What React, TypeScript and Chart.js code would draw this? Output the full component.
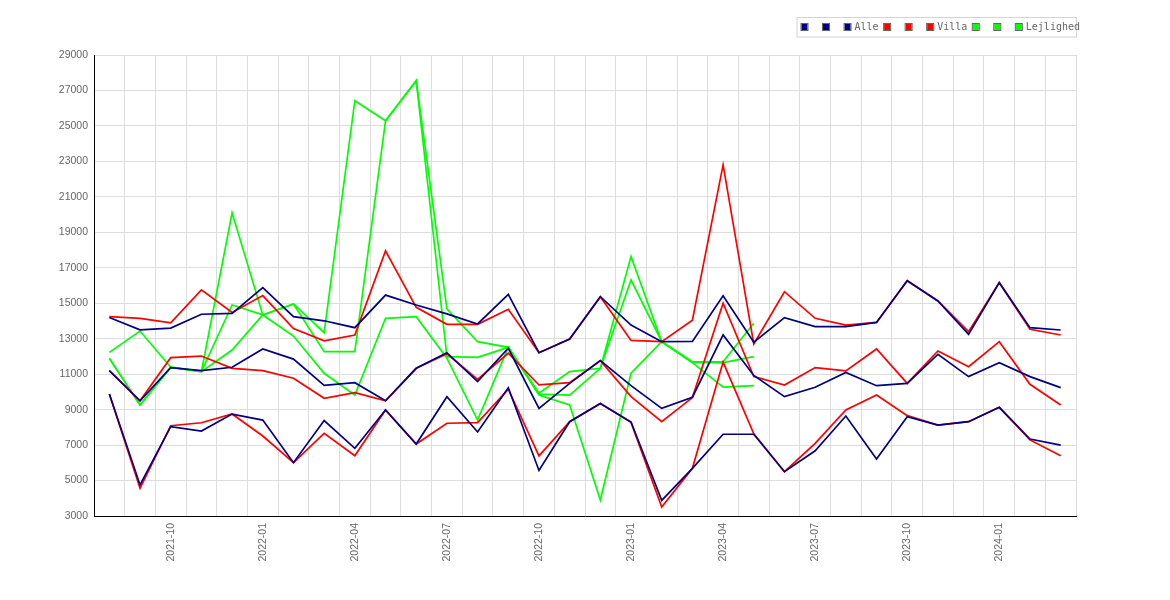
import React, { useEffect, useRef } from "react";
import { Chart, registerables } from "chart.js";

Chart.register(...registerables);

const months: string[] = [
  "2021-08", "2021-09", "2021-10", "2021-11", "2021-12",
  "2022-01", "2022-02", "2022-03", "2022-04", "2022-05", "2022-06",
  "2022-07", "2022-08", "2022-09", "2022-10", "2022-11", "2022-12",
  "2023-01", "2023-02", "2023-03", "2023-04", "2023-05", "2023-06",
  "2023-07", "2023-08", "2023-09", "2023-10", "2023-11", "2023-12",
  "2024-01", "2024-02", "2024-03",
];

const alleMax = [14200, 13500, 13600, 14380, 14430, 15880, 14240, 14010, 13620, 15460, 14900, 14400, 13830, 15500, 12210, 12980, 15370, 13770, 12830, 12850, 15420, 12800, 14190, 13680, 13680, 13920, 16270, 15130, 13250, 16160, 13620, 13490];
const alleMid = [11200, 9500, 11370, 11200, 11390, 12420, 11850, 10370, 10520, 9500, 11330, 12210, 10580, 12460, 9070, 10480, 11760, 10350, 9070, 9700, 13210, 10930, 9730, 10260, 11100, 10350, 10480, 12120, 10860, 11650, 10860, 10240];
const alleMin = [9880, 4750, 8040, 7790, 8750, 8410, 6010, 8380, 6820, 8980, 7060, 9730, 7740, 10230, 5570, 8320, 9340, 8300, 3880, 5690, 7610, 7610, 5500, 6680, 8640, 6210, 8600, 8130, 8320, 9130, 7340, 7000];

const villaMax = [14240, 14150, 13900, 15750, 14480, 15430, 13570, 12880, 13210, 17950, 14770, 13810, 13810, 14660, 12210, 12980, 15370, 12900, 12830, 14040, 22800, 12700, 15650, 14150, 13770, 13920, 16270, 15130, 13400, 16160, 13530, 13210];
const villaMid = [11200, 9500, 11930, 12020, 11330, 11200, 10770, 9640, 9960, 9500, 11330, 12150, 10700, 12180, 10390, 10520, 11760, 9730, 8320, 9680, 15000, 10860, 10390, 11370, 11180, 12420, 10480, 12310, 11420, 12830, 10430, 9260];
const villaMin = [9880, 4560, 8090, 8260, 8750, 7510, 6010, 7660, 6400, 8980, 7060, 8230, 8270, 10150, 6390, 8320, 9340, 8280, 3500, 5690, 11680, 7640, 5500, 7100, 8980, 9820, 8660, 8130, 8320, 9130, 7290, 6400];

const lejMax = [12230, 13430, 11390, 11140, 20100, 14340, 14960, 13340, 26420, 25290, 27550, 14680, 12830, 12510, 9920, 11140, 11330, 17630, 12830, 11700, 11700, 13870, null, null, null, null, null, null, null, null, null, null];
const lejMid = [11890, 9260, 11390, 11140, 14900, 14340, 14960, 12270, 12270, 25290, 27550, 11990, 11950, 12510, 9870, 9820, 11330, 16310, 12830, 11650, 11650, 11990, null, null, null, null, null, null, null, null, null, null];
const lejMin = [11890, 9260, 11390, 11140, 12360, 14340, 13150, 11050, 9820, 14150, 14240, 11900, 8410, 12510, 9820, 9260, 3900, 11050, 12830, 11650, 10270, 10350, null, null, null, null, null, null, null, null, null, null];

const yTicks = { min: 3000, max: 29000, step: 2000 };
const quarterMonths = ["01", "04", "07", "10"];

const NAVY = "#000080";
const RED = "#ff0000";
const GREEN = "#00ff00";

const boxLegend = {
  id: "boxLegend",
  afterDraw(chart: any) {
    const ctx = chart.ctx;
    const area = chart.chartArea;
    ctx.save();
    ctx.font = '10px "DejaVu Sans Mono"';
    const box = 6;
    const startX = area.right - 274.5;
    const cy = 27;
    ctx.strokeStyle = "#d4d4d4";
    ctx.lineWidth = 1;
    ctx.strokeRect(startX - 4.5, cy - 9.5, 279.5, 19.5);
    let x = startX;
    chart.data.datasets.forEach((ds: any) => {
      ctx.fillStyle = ds.borderColor;
      ctx.fillRect(x, cy - 3, box, box);
      ctx.strokeStyle = "#666666";
      ctx.strokeRect(x - 0.5, cy - 3.5, box + 1, box + 1);
      const label = ds.label || " ";
      ctx.fillStyle = "#666666";
      ctx.textBaseline = "middle";
      ctx.textAlign = "left";
      ctx.fillText(ds.label || "", x + box + 4, cy + 0.5);
      x += box + 4 + ctx.measureText(label).width + 5.5;
    });
    ctx.restore();
  },
};

export default function App() {
  const ref = useRef<HTMLCanvasElement | null>(null);

  useEffect(() => {
    if (!ref.current) return;
    const mk = (label: string, data: (number | null)[], color: string) => ({
      label,
      data,
      borderColor: color,
      backgroundColor: color,
      borderWidth: 1.7,
      pointRadius: 0,
      pointHoverRadius: 0,
      tension: 0,
      fill: false,
      spanGaps: false,
    });
    const chart = new Chart(ref.current, {
      type: "line",
      data: {
        labels: months,
        datasets: [
          mk("", alleMax, NAVY),
          mk("", alleMid, NAVY),
          mk("Alle", alleMin, NAVY),
          mk("", villaMax, RED),
          mk("", villaMid, RED),
          mk("Villa", villaMin, RED),
          mk("", lejMax, GREEN),
          mk("", lejMid, GREEN),
          mk("Lejlighed", lejMin, GREEN),
        ],
      },
      options: {
        animation: false,
        responsive: true,
        maintainAspectRatio: false,
        layout: { padding: { top: 55, right: 94, left: 0, bottom: 0 } },
        plugins: {
          legend: { display: false },
          tooltip: { enabled: false },
        },
        scales: {
          x: {
            type: "category",
            offset: true,
            grid: { offset: true, color: "#dddddd", drawTicks: false, lineWidth: 1 },
            border: { color: "#000000", width: 1 },
            ticks: {
              autoSkip: false,
              maxRotation: 90,
              minRotation: 90,
              padding: 7,
              color: "#666666",
              font: { family: '"Liberation Sans"', size: 10.5 },
              callback: function (this: any, value: any) {
                const lab = months[value as number];
                return quarterMonths.includes(lab.slice(5)) ? lab : "";
              },
            },
            afterFit: (scale: any) => {
              scale.height = 84;
            },
          },
          y: {
            min: yTicks.min,
            max: yTicks.max,
            grid: { color: "#dddddd", drawTicks: false, lineWidth: 1 },
            border: { color: "#000000", width: 1 },
            ticks: {
              stepSize: yTicks.step,
              padding: 6,
              color: "#666666",
              font: { family: '"Liberation Sans"', size: 10.5 },
              callback: (v: any) => String(v),
            },
            afterFit: (scale: any) => {
              scale.width = 94;
            },
          },
        },
      },
      plugins: [boxLegend],
    });
    return () => chart.destroy();
  }, []);

  return (
    <div style={{ position: "absolute", left: 0, top: 0, width: 1170, height: 600, background: "#fff" }}>
      <canvas ref={ref} />
    </div>
  );
}
